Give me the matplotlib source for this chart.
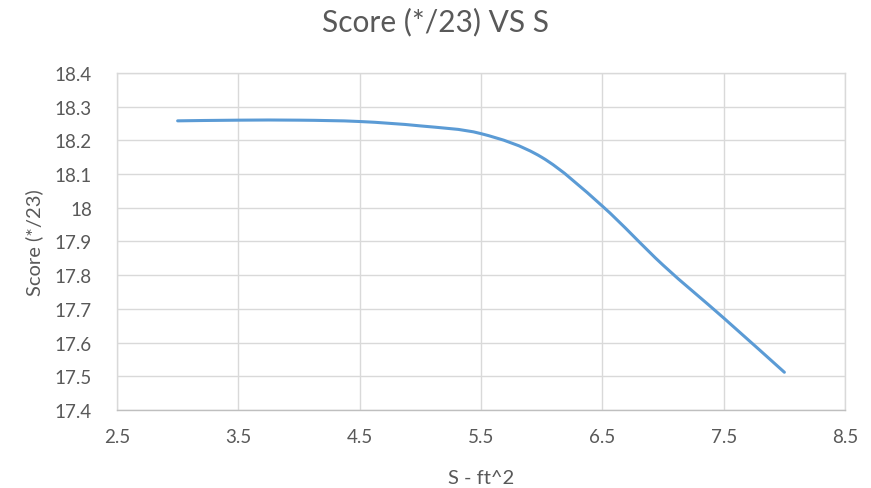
import matplotlib
matplotlib.use('Agg')
import matplotlib.pyplot as plt
from matplotlib.path import Path
from matplotlib.patches import PathPatch

# values
s_values = [3.0, 3.5, 4.0, 4.5, 5.0, 5.5, 6.0, 6.5, 7.0, 7.5, 8.0]
scores = [18.258, 18.26, 18.26, 18.256, 18.243, 18.22, 18.15, 18.005, 17.83, 17.673, 17.512]
x_ticks = [2.5, 3.5, 4.5, 5.5, 6.5, 7.5, 8.5]
y_ticks = [17.4, 17.5, 17.6, 17.7, 17.8, 17.9, 18.0, 18.1, 18.2, 18.3, 18.4]
y_labels = ['17.4', '17.5', '17.6', '17.7', '17.8', '17.9', '18', '18.1', '18.2', '18.3', '18.4']

text_col = '#595959'
grid_col = '#d9d9d9'
line_col = '#5b9bd5'

plt.rcParams['font.family'] = ['Lato', 'DejaVu Sans']


def smooth_path(x, y):
	# excel style smoothed line: cubic bezier through every point
	verts = [(x[0], y[0])]
	codes = [Path.MOVETO]
	n = len(x)
	for i in range(n - 1):
		x0, y0 = (x[i - 1], y[i - 1]) if i > 0 else (x[i], y[i])
		x3, y3 = (x[i + 2], y[i + 2]) if i + 2 < n else (x[i + 1], y[i + 1])
		c1 = (x[i] + (x[i + 1] - x0) / 6, y[i] + (y[i + 1] - y0) / 6)
		c2 = (x[i + 1] - (x3 - x[i]) / 6, y[i + 1] - (y3 - y[i]) / 6)
		verts += [c1, c2, (x[i + 1], y[i + 1])]
		codes += [Path.CURVE4] * 3
	return Path(verts, codes)


fig = plt.figure(figsize=(8.71, 4.89), dpi=100)
ax = fig.add_axes([0.1343, 0.1595, 0.8359, 0.6892])

ax.add_patch(PathPatch(smooth_path(s_values, scores), facecolor='none',
	edgecolor=line_col, linewidth=2.2, capstyle='round', zorder=3))

ax.set_xlim(2.5, 8.5)
ax.set_ylim(17.4, 18.4)
ax.set_xticks(x_ticks)
ax.set_yticks(y_ticks)
ax.set_yticklabels(y_labels)
ax.grid(True, color=grid_col, linewidth=1.0)
ax.set_axisbelow(True)
for sp in ax.spines.values():
	sp.set_color(grid_col)
	sp.set_linewidth(1.0)
ax.spines['bottom'].set_color('#bfbfbf')
ax.tick_params(length=0, labelsize=13.5, colors=text_col)
ax.tick_params(axis='y', pad=18)
ax.tick_params(axis='x', pad=13)

ax.set_xlabel('S - ft^2', fontsize=14.5, color=text_col)
ax.set_ylabel('Score (*/23)', fontsize=14.5, color=text_col)
ax.xaxis.set_label_coords(0.5, -0.175)
ax.yaxis.set_label_coords(-0.102, 0.5)
fig.suptitle('Score (*/23) VS S', fontsize=21.5, color=text_col, y=0.985)

fig.savefig('out.png', dpi=100)
